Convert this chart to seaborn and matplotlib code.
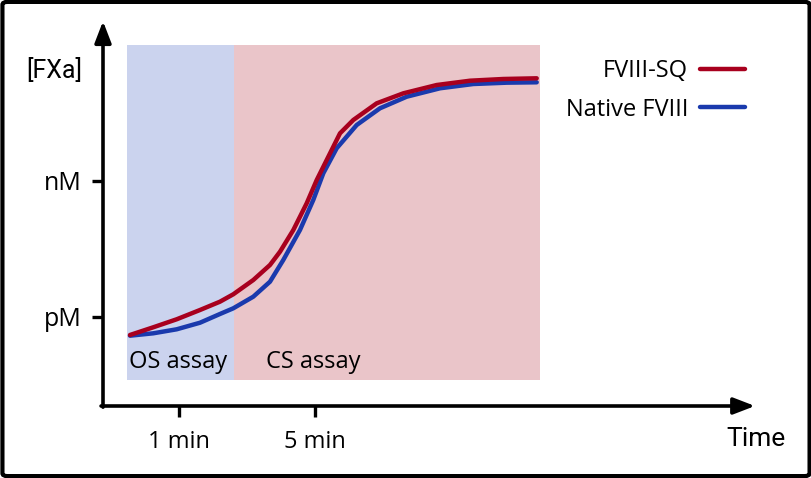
import pandas as pd
import seaborn as sns
import matplotlib.pyplot as plt
from matplotlib.patches import FancyBboxPatch

# schematic units: x 0..10 (time), y 0..10 ([FXa])
sq_x = [0.414, 0.771, 1.130, 1.488, 1.794, 1.998, 2.305, 2.561, 2.715, 2.919, 3.124, 3.278,
        3.431, 3.635, 3.839, 4.198, 4.606, 5.118, 5.629, 6.140, 6.652]
sq_y = [1.864, 2.066, 2.276, 2.520, 2.738, 2.932, 3.307, 3.701, 4.050, 4.619, 5.320, 5.932,
        6.457, 7.157, 7.507, 7.945, 8.207, 8.425, 8.538, 8.583, 8.601]
nat_x = [0.414, 0.771, 1.130, 1.488, 1.794, 1.998, 2.305, 2.561, 2.765, 3.021, 3.225, 3.379,
         3.584, 3.891, 4.248, 4.658, 5.169, 5.679, 6.192, 6.652]
nat_y = [1.845, 1.908, 2.013, 2.186, 2.415, 2.564, 2.869, 3.262, 3.832, 4.619, 5.407, 6.108,
         6.764, 7.375, 7.814, 8.118, 8.339, 8.451, 8.486, 8.496]

x_ticks = [1.17, 3.25]
x_labels = ["1 min", "5 min"]
y_ticks = [2.34, 5.91]
y_labels = ["pM", "nM"]

os_span = (0.37, 2.01)
cs_span = (2.01, 6.70)

df = pd.concat([
    pd.DataFrame({"t": sq_x, "fxa": sq_y, "kind": "FVIII-SQ"}),
    pd.DataFrame({"t": nat_x, "fxa": nat_y, "kind": "Native FVIII"}),
])

sns.set_style("white", {"text.color": "black", "xtick.color": "black", "ytick.color": "black",
                        "xtick.bottom": True, "ytick.left": True})
plt.rcParams["font.family"] = ["Open Sans", "DejaVu Sans"]
narrow = ["Roboto", "DejaVu Sans"]

fig = plt.figure(figsize=(8.12, 4.78), dpi=100)
fig.patches.append(FancyBboxPatch((0.003, 0.004), 0.994, 0.992, boxstyle="round,pad=0,rounding_size=0.006",
                                  transform=fig.transFigure, fill=False, lw=3, ec="black"))
ax = fig.add_axes([103 / 812, 72 / 478, 652 / 812, 381 / 478])
ax.set_xlim(0, 10)
ax.set_ylim(0, 10)

ax.axvspan(*os_span, ymin=0.068, ymax=0.948, color="#cbd3ee", lw=0, zorder=0)
ax.axvspan(*cs_span, ymin=0.068, ymax=0.948, color="#eac5c9", lw=0, zorder=0)

sns.lineplot(data=df, x="t", y="fxa", hue="kind", palette=["#a8001e", "#1a3aad"],
             hue_order=["FVIII-SQ", "Native FVIII"], sort=False, lw=3.2, ax=ax, zorder=3)
for ln in ax.lines:
    ln.set_solid_capstyle("round")
    ln.set_solid_joinstyle("round")
ax.lines[1].set_zorder(2)

for s in ax.spines.values():
    s.set_visible(False)
arrow = dict(arrowstyle="-|>,head_length=1.3,head_width=0.5", lw=2.6, color="black", shrinkA=0, shrinkB=0)
ax.annotate("", xy=(0, 1.01), xytext=(0, -0.003), xycoords="axes fraction", arrowprops=arrow)
ax.annotate("", xy=(1, 0), xytext=(-0.003, 0), xycoords="axes fraction", arrowprops=arrow)

ax.set_xticks(x_ticks, x_labels, fontsize=17)
ax.set_yticks(y_ticks, y_labels, fontsize=18)
ax.tick_params(axis="both", length=8, width=2.4, color="black", direction="out")
ax.tick_params(axis="x", pad=9)
ax.tick_params(axis="y", pad=7)
ax.set_xlabel("")
ax.set_ylabel("")

ax.text(-0.032, 0.88, "[FXa]", transform=ax.transAxes, ha="right", va="center", fontsize=18, family=narrow)
fig.text(756 / 812, 1 - 439 / 478, "Time", ha="center", va="center", fontsize=19, family=narrow)
ax.text(0.04, 0.115, "OS assay", transform=ax.transAxes, ha="left", va="center", fontsize=17)
ax.text(0.25, 0.115, "CS assay", transform=ax.transAxes, ha="left", va="center", fontsize=17)

leg = ax.legend(loc="upper right", bbox_to_anchor=(745 / 812, 1 - 59 / 478), bbox_transform=fig.transFigure,
                borderpad=0, borderaxespad=0, frameon=False, markerfirst=False,
                fontsize=17, handlelength=1.9, handletextpad=0.5, labelspacing=0.62, title=None)
for h in leg.get_lines():
    h.set_linewidth(3.2)

fig.savefig("out.png", dpi=100)
